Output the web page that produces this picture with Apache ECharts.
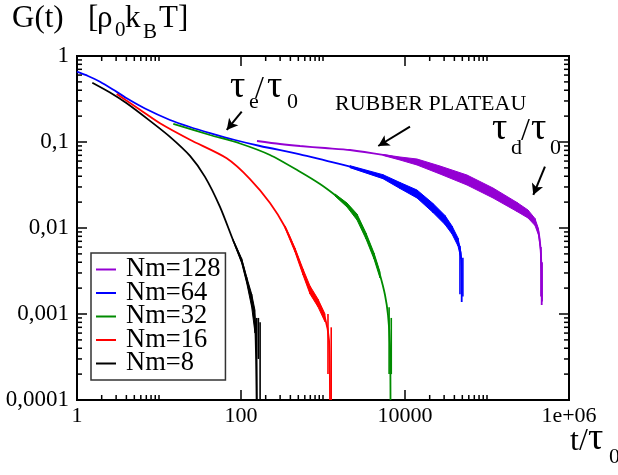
<!DOCTYPE html>
<html><head><meta charset="utf-8">
<script src="https://cdn.jsdelivr.net/npm/echarts@6/dist/echarts.min.js"></script>
<style>html,body{margin:0;padding:0;background:#fff}#c{width:618px;height:475px}</style>
</head><body><div id="c"></div>
<script>
// ---------- data ----------
const seriesNames = ['Nm=128', 'Nm=64', 'Nm=32', 'Nm=16', 'Nm=8'];
const seriesColors = ['#9400d3', '#0000ff', '#008b00', '#ff0000', '#000000'];

const tNm128 = [156.7, 298.9, 524.3, 1058, 2135, 5392, 8690, 14007, 26723, 57020, 118370, 232260, 316230, 384820, 424620, 449200, 461970, 464640];
const gNm128 = [0.1027, 0.0948, 0.08985, 0.08514, 0.0807, 0.07063, 0.06428, 0.05854, 0.04724, 0.03613, 0.02553, 0.01755, 0.01455, 0.01174, 0.008985, 0.005852, 0.003248, 0.001273];
const bandNm128 = [[5392, 0.0698, 0.0715], [8690, 0.06175, 0.06691], [14007, 0.05403, 0.06343], [26723, 0.04245, 0.05257], [57020, 0.03161, 0.0413], [118370, 0.02234, 0.02918], [232260, 0.01556, 0.0198], [316230, 0.01307, 0.01619], [384820, 0.01069, 0.01289], [424620, 0.00829, 0.00974], [449200, 0.00555, 0.00617], [461970, 0.00312, 0.00338]];
const spikesNm128 = [[455000, 0.0016, 0.0060], [470000, 0.0014, 0.0040]];

const tNm64 = [1, 1.362, 1.908, 2.748, 4.037, 6.749, 13.62, 23.88, 41.88, 84.52, 170.5, 524.3, 1058, 2135, 5392, 8690, 14007, 21955, 30738, 37430, 44296, 48187, 49150, 49150];
const gNm64 = [0.6569, 0.5855, 0.5026, 0.4077, 0.3222, 0.2452, 0.1803, 0.1494, 0.1272, 0.1055, 0.08985, 0.07194, 0.06095, 0.05163, 0.03949, 0.0312, 0.02485, 0.01708, 0.01239, 0.009477, 0.006874, 0.004724, 0.002485, 0.001379];
const bandNm64 = [[2135, 0.05027, 0.05303], [5392, 0.03743, 0.04166], [8690, 0.0288, 0.0338], [14007, 0.02233, 0.02765], [21955, 0.01514, 0.01927], [30738, 0.01098, 0.01398], [37430, 0.00852, 0.01055], [44296, 0.00618, 0.00765], [48187, 0.00436, 0.00512]];
const spikesNm64 = [[46800, 0.0017, 0.0062], [50800, 0.0016, 0.0045]];

const tNm32 = [14.94, 41.88, 97.23, 225.8, 524.3, 919.3, 1401, 1962, 2598, 3345, 4188, 4957, 5704, 6204, 6563, 6656];
const gNm32 = [0.162, 0.1206, 0.09607, 0.07063, 0.04514, 0.03249, 0.0242, 0.01851, 0.01342, 0.00807, 0.004724, 0.002841, 0.001663, 0.000974, 0.000436, 0.0001];
const bandNm32 = [[1401, 0.02356, 0.02486], [1962, 0.01755, 0.01953], [2598, 0.01239, 0.01454], [3345, 0.00745, 0.00874], [4188, 0.00436, 0.00512], [4957, 0.00262, 0.00308]];
const spikesNm32 = [[6400, 0.0002, 0.0012], [6800, 0.0002, 0.0009]];

const tNm16 = [3.049, 5.867, 10.28, 23.88, 66.94, 128.8, 225.8, 344.1, 455.5, 570.4, 694.1, 869, 1058, 1184, 1217];
const gNm16 = [0.3615, 0.2368, 0.165, 0.1061, 0.06463, 0.03713, 0.01953, 0.01027, 0.005549, 0.003079, 0.001902, 0.001342, 0.000898, 0.000498, 0.0001];
const bandNm16 = [[344.1, 0.0100, 0.01055], [455.5, 0.00526, 0.00585], [570.4, 0.00284, 0.00334], [694.1, 0.00171, 0.00212], [869, 0.00121, 0.00149], [1058, 0.00081, 0.00100]];
const spikesNm16 = [[1150, 0.0002, 0.0010], [1260, 0.0001, 0.0007]];

const tNm8 = [1.537, 2.526, 4.037, 7.769, 13.62, 23.88, 36.39, 55.44, 79.89, 101.98, 117.3, 135.1, 148.2, 155.4];
const gNm8 = [0.4892, 0.3763, 0.2818, 0.1759, 0.1147, 0.0689, 0.03928, 0.01759, 0.007252, 0.004133, 0.002485, 0.001455, 0.000852, 0.0001];
const bandNm8 = [[79.89, 0.00712, 0.00738], [101.98, 0.0039, 0.0044], [117.3, 0.0023, 0.0027], [135.1, 0.0012, 0.0017], [148.2, 0.0006, 0.0011]];
const spikesNm8 = [[155.4, 0.0001, 0.0009], [163, 0.0003, 0.0009], [171, 0.0001, 0.0008]];

const xTickLabels = { '0': '1', '2': '100', '4': '10000', '6': '1e+06' };
const yTickLabels = { '0': '1', '-1': '0,1', '-2': '0,01', '-3': '0,001', '-4': '0,0001' };
const xMajorTicks = [1, 100, 10000, 1000000];
const xMinorTicks = [2, 3, 4, 5, 6, 7, 8, 9, 10, 200, 300, 400, 500, 600, 700, 800, 900, 1000, 20000, 30000, 40000, 50000, 60000, 70000, 80000, 90000, 100000];
const yMajorTicks = [0.0001, 0.001, 0.01, 0.1, 1];
const yMinorTicks = [0.0002, 0.0003, 0.0004, 0.0005, 0.0006, 0.0007, 0.0008, 0.0009,
  0.002, 0.003, 0.004, 0.005, 0.006, 0.007, 0.008, 0.009,
  0.02, 0.03, 0.04, 0.05, 0.06, 0.07, 0.08, 0.09,
  0.2, 0.3, 0.4, 0.5, 0.6, 0.7, 0.8, 0.9];

// arrows (data coordinates): [from, to]
const arrowTauE = [[102, 0.225], [67, 0.138]];
const arrowRubber = [[11500, 0.151], [4720, 0.0898]];
const arrowTauD = [[509000, 0.0516], [367000, 0.0242]];

// ---------- chart ----------
const FONT = '"Liberation Serif", "Times New Roman", serif';
const X_MIN = 1, X_MAX = 1e6, Y_MIN = 1e-4, Y_MAX = 1;

const curves = [
  [tNm128, gNm128, bandNm128, spikesNm128],
  [tNm64, gNm64, bandNm64, spikesNm64],
  [tNm32, gNm32, bandNm32, spikesNm32],
  [tNm16, gNm16, bandNm16, spikesNm16],
  [tNm8, gNm8, bandNm8, spikesNm8]
];

const series = [];
curves.forEach(function (c, k) {
  const color = seriesColors[k];
  series.push({
    type: 'line', name: seriesNames[k], data: c[0].map(function (t, i) { return [t, c[1][i]]; }),
    symbol: 'none', smooth: 0.25, lineStyle: { color: color, width: 1.8 }, itemStyle: { color: color },
    z: 3 + k, silent: true
  });
  const band = c[2];
  series.push({
    type: 'custom', coordinateSystem: 'cartesian2d', silent: true, z: 3 + k,
    data: band.map(function (b) { return [b[0], b[1], b[2]]; }),
    encode: { x: 0, y: [1, 2] },
    renderItem: function (params, api) {
      const i = params.dataIndex;
      if (i >= band.length - 1) return null;
      const a = band[i], b = band[i + 1];
      const pts = [api.coord([a[0], a[2]]), api.coord([b[0], b[2]]), api.coord([b[0], b[1]]), api.coord([a[0], a[1]])];
      return { type: 'polygon', shape: { points: pts }, style: { fill: color, stroke: color, lineWidth: 1 } };
    }
  });
  const spikes = c[3];
  series.push({
    type: 'custom', coordinateSystem: 'cartesian2d', silent: true, z: 3 + k,
    data: spikes, encode: { x: 0, y: [1, 2] },
    renderItem: function (params, api) {
      const p = api.coord([api.value(0), api.value(1)]), q = api.coord([api.value(0), api.value(2)]);
      return { type: 'line', shape: { x1: p[0], y1: p[1], x2: q[0], y2: q[1] }, style: { stroke: color, lineWidth: 1.6 } };
    }
  });
});

// ticks (inside, all four sides)
function tickSeries(values, isX, len) {
  return {
    type: 'custom', coordinateSystem: 'cartesian2d', silent: true, z: 20, clip: false,
    data: values.map(function (v) { return isX ? [v, Y_MIN] : [X_MIN, v]; }),
    renderItem: function (params, api) {
      const v = values[params.dataIndex];
      let a, b;
      if (isX) {
        a = api.coord([v, Y_MIN]); b = api.coord([v, Y_MAX]);
        return { type: 'group', children: [
          { type: 'line', shape: { x1: a[0], y1: a[1], x2: a[0], y2: a[1] - len }, style: { stroke: '#000', lineWidth: 1.5 } },
          { type: 'line', shape: { x1: b[0], y1: b[1], x2: b[0], y2: b[1] + len }, style: { stroke: '#000', lineWidth: 1.5 } }
        ] };
      }
      a = api.coord([X_MIN, v]); b = api.coord([X_MAX, v]);
      return { type: 'group', children: [
        { type: 'line', shape: { x1: a[0], y1: a[1], x2: a[0] + len, y2: a[1] }, style: { stroke: '#000', lineWidth: 1.5 } },
        { type: 'line', shape: { x1: b[0], y1: b[1], x2: b[0] - len, y2: b[1] }, style: { stroke: '#000', lineWidth: 1.5 } }
      ] };
    }
  };
}
series.push(tickSeries(xMajorTicks, true, 10));
series.push(tickSeries(xMinorTicks, true, 5));
series.push(tickSeries(yMajorTicks, false, 10));
series.push(tickSeries(yMinorTicks, false, 5));

// arrows via markLine
series.push({
  type: 'line', data: [], silent: true, z: 15,
  markLine: {
    silent: true, animation: false, symbol: ['none', 'arrow'], symbolSize: [9, 11],
    label: { show: false },
    lineStyle: { color: '#000', width: 2, type: 'solid' },
    data: [arrowTauE, arrowRubber, arrowTauD].map(function (a) { return [{ coord: a[0] }, { coord: a[1] }]; })
  }
});

function txt(text, x, baseline, size) {
  return { type: 'text', x: x, y: baseline - 0.34 * size, silent: true,
    style: { text: text, font: size + 'px ' + FONT, fill: '#000', verticalAlign: 'middle', align: 'left' } };
}

const chart = echarts.init(document.getElementById('c'), null, { renderer: 'canvas' });
chart.setOption({
  animation: false,
  backgroundColor: '#fff',
  grid: { left: 77, top: 56, right: 49, bottom: 75, show: true, borderColor: '#000', borderWidth: 2, backgroundColor: 'transparent' },
  xAxis: {
    type: 'log', logBase: 10, min: X_MIN, max: X_MAX, interval: 1,
    axisLine: { show: false }, axisTick: { show: false }, splitLine: { show: false },
    axisLabel: { margin: 5, color: '#000', fontFamily: FONT, fontSize: 22, showMinLabel: true, showMaxLabel: true,
      formatter: function (v) { const e = Math.round(Math.log10(v)); return xTickLabels[String(e)] || ''; } }
  },
  yAxis: {
    type: 'log', logBase: 10, min: Y_MIN, max: Y_MAX, interval: 1,
    axisLine: { show: false }, axisTick: { show: false }, splitLine: { show: false },
    axisLabel: { margin: 8, color: '#000', fontFamily: FONT, fontSize: 23, showMinLabel: true, showMaxLabel: true,
      formatter: function (v) { const e = Math.round(Math.log10(v)); return yTickLabels[String(e)] || ''; } }
  },
  legend: {
    data: seriesNames, orient: 'vertical', left: 91, top: 253,
    icon: 'rect', itemWidth: 20, itemHeight: 2, itemGap: -3.5,
    padding: [3, 5, 3, 5], borderColor: '#333', borderWidth: 1.5,
    textStyle: { fontFamily: FONT, fontSize: 26.5, color: '#000', lineHeight: 23.5, padding: [0, 0, 0, 5] },
    selectedMode: false
  },
  graphic: [
    txt('G(t)', 12, 29, 31), txt('[', 88, 29, 31), txt('\u03c1', 97, 29, 31), txt('0', 115, 38, 21),
    txt('k', 125, 29, 31), txt('B', 143, 40, 21), txt('T]', 159, 29, 31),
    txt('t/', 570, 452, 32), txt('\u03c4', 588, 452, 38), txt('0', 609, 465, 22),
    txt('\u03c4', 230, 100, 38), txt('e', 249, 110, 22), txt('/', 255, 100, 32), txt('\u03c4', 267, 100, 38), txt('0', 287, 110, 22),
    txt('RUBBER PLATEAU', 335, 112, 22),
    txt('\u03c4', 492, 142, 38), txt('d', 511, 156, 22), txt('/', 521, 142, 32), txt('\u03c4', 531, 142, 38), txt('0', 550, 156, 22)
  ],
  series: series
});
</script>
</body></html>
